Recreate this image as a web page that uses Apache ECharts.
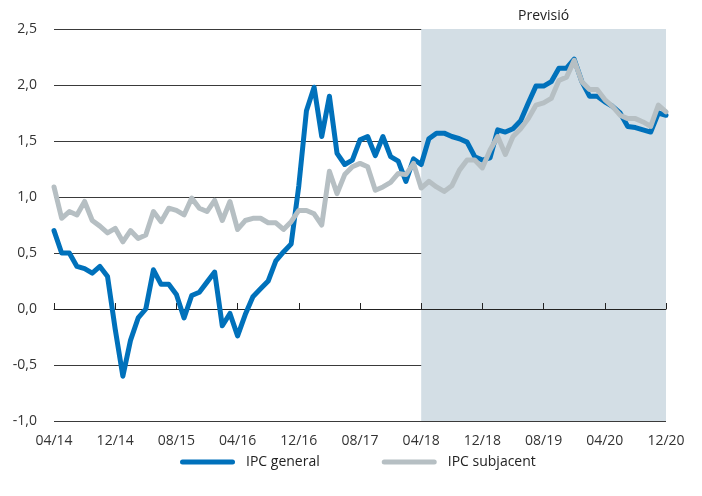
<!DOCTYPE html>
<html>
<head>
<meta charset="utf-8">
<script src="https://cdn.jsdelivr.net/npm/echarts@6/dist/echarts.min.js"></script>
<style>
html,body{margin:0;padding:0;background:#fff;}
#chart{width:702px;height:496px;}
</style>
</head>
<body>
<div id="chart"></div>
<script>
// Month categories 04/14 .. 12/20
var months = [
  '04/14','05/14','06/14','07/14','08/14','09/14','10/14','11/14','12/14',
  '01/15','02/15','03/15','04/15','05/15','06/15','07/15','08/15','09/15','10/15','11/15','12/15',
  '01/16','02/16','03/16','04/16','05/16','06/16','07/16','08/16','09/16','10/16','11/16','12/16',
  '01/17','02/17','03/17','04/17','05/17','06/17','07/17','08/17','09/17','10/17','11/17','12/17',
  '01/18','02/18','03/18','04/18','05/18','06/18','07/18','08/18','09/18','10/18','11/18','12/18',
  '01/19','02/19','03/19','04/19','05/19','06/19','07/19','08/19','09/19','10/19','11/19','12/19',
  '01/20','02/20','03/20','04/20','05/20','06/20','07/20','08/20','09/20','10/20','11/20','12/20'
];

var ipcGeneral = [
  0.70, 0.50, 0.50, 0.38, 0.36, 0.32, 0.38, 0.29, -0.18,
  -0.60, -0.28, -0.08, 0.00, 0.35, 0.22, 0.22, 0.13, -0.08, 0.12, 0.15, 0.24,
  0.33, -0.15, -0.04, -0.24, -0.05, 0.11, 0.18, 0.25, 0.43, 0.51, 0.58, 1.10,
  1.77, 1.98, 1.54, 1.90, 1.39, 1.29, 1.33, 1.51, 1.54, 1.37, 1.54, 1.36,
  1.32, 1.14, 1.34, 1.29, 1.52, 1.57, 1.57, 1.54, 1.52, 1.49, 1.36, 1.33,
  1.35, 1.60, 1.58, 1.61, 1.68, 1.84, 1.99, 1.99, 2.03, 2.15, 2.15, 2.23,
  2.03, 1.90, 1.90, 1.85, 1.81, 1.75, 1.63, 1.62, 1.60, 1.58, 1.75, 1.73
];

var ipcSubjacent = [
  1.09, 0.81, 0.87, 0.84, 0.96, 0.79, 0.74, 0.68, 0.72,
  0.60, 0.70, 0.63, 0.66, 0.87, 0.78, 0.90, 0.88, 0.84, 0.99, 0.90, 0.87,
  0.97, 0.79, 0.96, 0.71, 0.79, 0.81, 0.81, 0.77, 0.77, 0.71, 0.78, 0.88,
  0.88, 0.85, 0.75, 1.23, 1.03, 1.20, 1.27, 1.30, 1.27, 1.06, 1.09, 1.13,
  1.21, 1.20, 1.30, 1.08, 1.14, 1.09, 1.05, 1.10, 1.24, 1.33, 1.33, 1.26,
  1.42, 1.54, 1.38, 1.54, 1.61, 1.70, 1.82, 1.84, 1.88, 2.04, 2.07, 2.22,
  2.03, 1.96, 1.96, 1.87, 1.81, 1.73, 1.70, 1.70, 1.67, 1.63, 1.82, 1.76
];

var seriesNames = ['IPC general', 'IPC subjacent'];
var forecastStart = '04/18';
var forecastEnd = '12/20';
var forecastLabel = 'Previsió';

var FONT = '"Open Sans", "Noto Sans", sans-serif';
var chart = echarts.init(document.getElementById('chart'), null, {renderer: 'canvas'});

chart.setOption({
  animation: false,
  backgroundColor: '#ffffff',
  grid: {left: 54, right: 36, top: 29, bottom: 75, containLabel: false},
  legend: {
    bottom: 27,
    left: 180,
    padding: 0,
    itemWidth: 55,
    itemHeight: 5,
    itemGap: 62,
    icon: 'path://M2.5,0 L52.5,0 A2.5,2.5 0 0 1 52.5,5 L2.5,5 A2.5,2.5 0 0 1 2.5,0 Z',
    textStyle: {fontFamily: FONT, fontSize: 14, color: '#222', padding: [0, 0, 0, 6]},
    data: seriesNames
  },
  xAxis: [{
    type: 'category',
    data: months,
    boundaryGap: false,
    position: 'bottom',
    axisLine: {show: false, onZero: false},
    axisTick: {show: false},
    splitLine: {show: false},
    axisLabel: {interval: 7, margin: 13, fontFamily: FONT, fontSize: 14, color: '#333',
      showMinLabel: true, showMaxLabel: true}
  }, {
    type: 'category',
    data: months,
    boundaryGap: false,
    position: 'bottom',
    z: 3,
    axisLine: {show: true, onZero: true, lineStyle: {color: '#222', width: 1}},
    axisTick: {show: true, inside: true, interval: 7, length: 6, lineStyle: {color: '#222', width: 1}},
    axisLabel: {show: false},
    splitLine: {show: false}
  }],
  yAxis: {
    type: 'value',
    min: -1,
    max: 2.5,
    interval: 0.5,
    z: 1,
    axisLine: {show: false},
    axisTick: {show: false},
    splitLine: {show: true, lineStyle: {color: '#3a3a3a', width: 1}},
    axisLabel: {
      margin: 17,
      fontFamily: FONT, fontSize: 14, color: '#333',
      formatter: function (v) { return v.toFixed(1).replace('.', ','); }
    }
  },
  series: [{
    name: '__forecast',
    type: 'line',
    data: [],
    z: 0,
    silent: true,
    markArea: {
      silent: true,
      itemStyle: {color: '#d3dee5'},
      label: {show: true, position: 'top', distance: 6, color: '#222', fontFamily: FONT, fontSize: 14},
      data: [[{name: forecastLabel, xAxis: forecastStart, yAxis: 2.5}, {xAxis: forecastEnd, yAxis: -1}]]
    }
  }, {
    name: seriesNames[0],
    type: 'line',
    data: ipcGeneral,
    z: 4,
    showSymbol: false,
    symbol: 'none',
    color: '#0071bb',
    lineStyle: {color: '#0071bb', width: 5, cap: 'round', join: 'round'}
  }, {
    name: seriesNames[1],
    type: 'line',
    data: ipcSubjacent,
    z: 5,
    showSymbol: false,
    symbol: 'none',
    color: '#b6bfc3',
    lineStyle: {color: '#b6bfc3', width: 5, cap: 'round', join: 'round'}
  }]
});
</script>
</body>
</html>
